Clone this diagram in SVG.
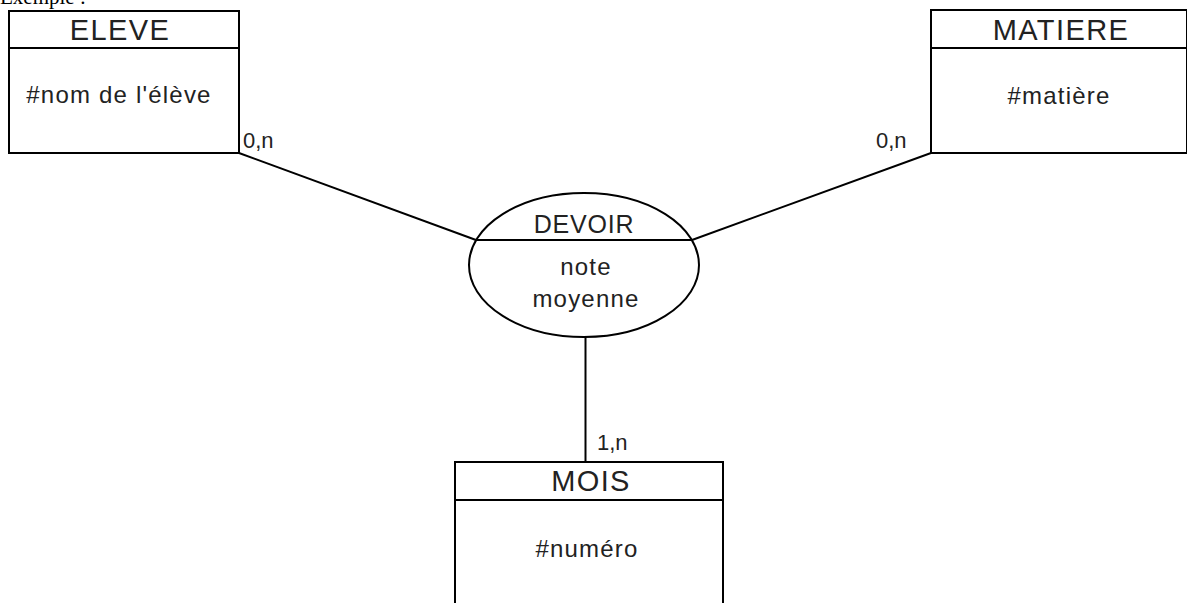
<svg xmlns="http://www.w3.org/2000/svg" width="1187" height="603" viewBox="0 0 1187 603">
<style>
.box{fill:#fff;stroke:#000;stroke-width:2}
.ln{stroke:#000;stroke-width:2;fill:none}
.t{font-family:"Liberation Sans",Arial,sans-serif;fill:#222;text-anchor:middle}
.title{font-size:29px;letter-spacing:1.4px}
.attr{font-size:24px;letter-spacing:1.2px}
.card{font-family:"Liberation Sans",Arial,sans-serif;fill:#222;font-size:22px}
</style>
<rect width="1187" height="603" fill="#fff"/>
<text x="0" y="4" font-family="Liberation Serif, Times New Roman, serif" font-size="21" fill="#000">Exemple :</text>
<g id="connectors">
<line class="ln" x1="239" y1="153" x2="476" y2="240"/>
<line class="ln" x1="931" y1="153" x2="692" y2="240"/>
<line class="ln" x1="585.5" y1="337" x2="585.5" y2="462"/>
<text class="card" x="243" y="148">0,n</text>
<text class="card" x="876" y="148">0,n</text>
<text class="card" x="597" y="450">1,n</text>
</g>
<g id="eleve">
<rect class="box" x="9" y="11" width="230" height="142"/>
<line class="ln" x1="9" y1="48" x2="239" y2="48"/>
<text class="t title" x="120" y="40">ELEVE</text>
<text class="t attr" x="119" y="103">#nom de l'élève</text>
</g>
<g id="matiere">
<rect class="box" x="931" y="10" width="256" height="143"/>
<line class="ln" x1="931" y1="48" x2="1187" y2="48"/>
<text class="t title" x="1061" y="40">MATIERE</text>
<text class="t attr" x="1059" y="104">#matière</text>
</g>
<g id="devoir">
<ellipse class="box" cx="584" cy="265" rx="115" ry="72"/>
<line class="ln" x1="476" y1="240" x2="692" y2="240"/>
<text class="t title" x="584" y="233" style="font-size:25px;letter-spacing:0.8px">DEVOIR</text>
<text class="t attr" x="586" y="275">note</text>
<text class="t attr" x="586" y="307">moyenne</text>
</g>
<g id="mois">
<rect class="box" x="455" y="462" width="268" height="150"/>
<line class="ln" x1="455" y1="500" x2="723" y2="500"/>
<text class="t title" x="591" y="491">MOIS</text>
<text class="t attr" x="587" y="557">#numéro</text>
</g>
</svg>
